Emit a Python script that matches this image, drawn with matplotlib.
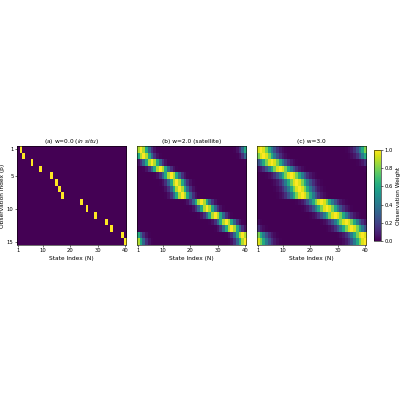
import matplotlib
matplotlib.use("Agg")
import matplotlib.pyplot as plt
import numpy as np

# observation locations on the 40-point cyclic state grid (1-based)
obs_states = [2, 3, 6, 9, 13, 15, 16, 17, 24, 26, 29, 33, 35, 39, 40]
n_state = 40
widths = [0.0, 2.0, 3.0]
titles = ["(a) w=0.0 ($\\it{in\\ situ}$)", "(b) w=2.0 (satellite)", "(c) w=3.0"]
x_ticks = [1, 10, 20, 30, 40]
y_ticks = [1, 5, 10, 15]
cbar_ticks = [0.0, 0.2, 0.4, 0.6, 0.8, 1.0]


def weight_matrix(w):
    states = np.arange(1, n_state + 1)
    H = np.zeros((len(obs_states), n_state))
    for i, s in enumerate(obs_states):
        d = np.abs(states - s)
        d = np.minimum(d, n_state - d)  # periodic domain
        if w == 0:
            H[i] = (d == 0).astype(float)
        else:
            H[i] = np.exp(-0.5 * (d / w) ** 2)
    return H


plt.rcParams["font.size"] = 4
plt.rcParams["axes.linewidth"] = 0.4

fig = plt.figure(figsize=(4, 4), dpi=100)
lefts = [0.0425, 0.3425, 0.6425]

for k, w in enumerate(widths):
    ax = fig.add_axes([lefts[k], 0.3875, 0.273, 0.2475])
    im = ax.imshow(weight_matrix(w), cmap="viridis", vmin=0, vmax=1,
                   aspect="auto", interpolation="nearest",
                   extent=(0.5, n_state + 0.5, len(obs_states) + 0.5, 0.5))
    ax.set_title(titles[k], fontsize=4.2, pad=2.5)
    ax.set_xticks(x_ticks)
    ax.set_xlabel("State Index (N)", fontsize=4.2, labelpad=1.5)
    ax.tick_params(length=1.5, width=0.4, pad=1, labelsize=3.8)
    if k == 0:
        ax.set_yticks(y_ticks)
        ax.set_ylabel("Observation Index (p)", fontsize=4.2, labelpad=1.5)
    else:
        ax.set_yticks([])

cax = fig.add_axes([0.935, 0.3975, 0.0175, 0.2275])
cb = fig.colorbar(im, cax=cax, ticks=cbar_ticks)
cb.outline.set_linewidth(0.4)
cb.ax.tick_params(length=1.5, width=0.4, pad=1, labelsize=3.8)
cb.set_label("Observation Weight", fontsize=4.2, labelpad=2)

fig.savefig("out.png", dpi=100)
